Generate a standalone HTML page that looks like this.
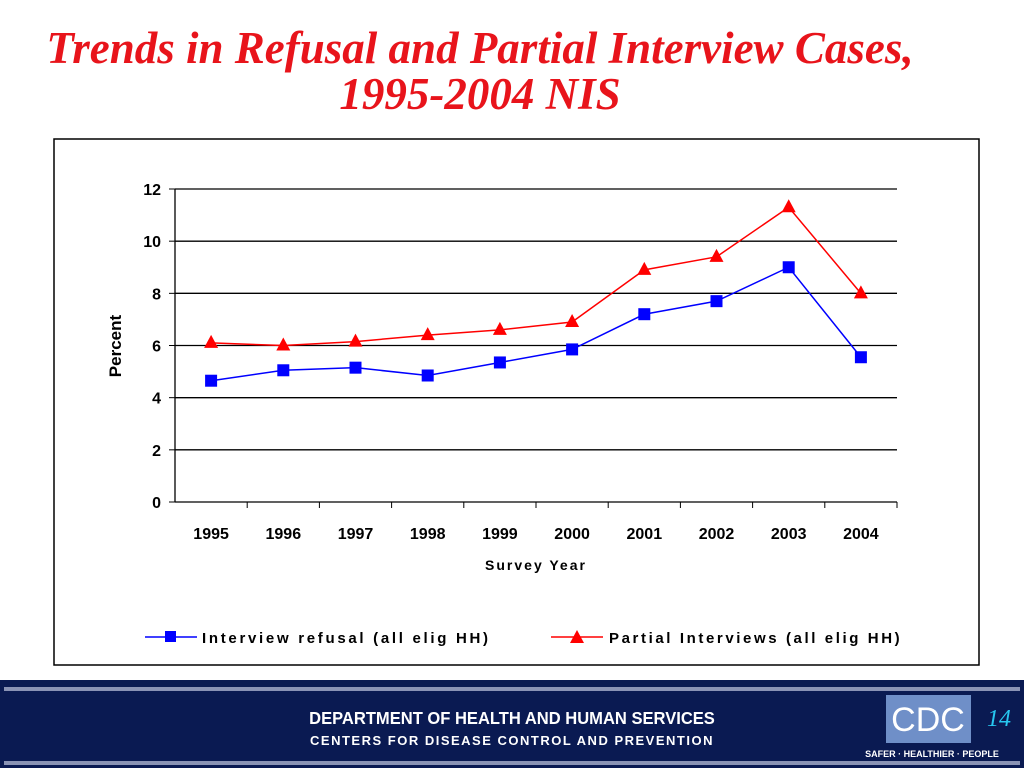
<!DOCTYPE html>
<html><head><meta charset="utf-8"><style>
body{margin:0;width:1024px;height:768px;background:#fff;overflow:hidden;position:relative;font-family:"Liberation Sans",sans-serif}
.title{position:absolute;left:0;width:960px;text-align:center;font-family:"Liberation Serif",serif;font-style:italic;font-weight:bold;color:#e8141b;font-size:45px;line-height:46px}
</style></head><body>
<div class="title" style="top:25px">Trends in Refusal and Partial Interview Cases,<br>1995-2004 NIS</div>
<svg id="chart" width="1024" height="768" style="position:absolute;left:0;top:0">
<rect x="54" y="139" width="925" height="526" fill="#fff" stroke="#000" stroke-width="1.5"/>
<g id="grid"></g><g id="axes"></g><g id="series"></g>
<text x="121" y="346" transform="rotate(-90 121 346)" text-anchor="middle" font-size="17" font-weight="bold" font-family="Liberation Sans">Percent</text>
<text x="536" y="570" text-anchor="middle" font-size="14" font-weight="bold" letter-spacing="2" font-family="Liberation Sans">Survey Year</text>
<g>
<line x1="145" y1="637" x2="197" y2="637" stroke="#0000ff" stroke-width="1.5"/><rect x="165" y="631" width="11" height="11" fill="#0000ff"/>
<text x="202" y="643" font-size="15" font-weight="bold" letter-spacing="2.7" font-family="Liberation Sans">Interview refusal (all elig HH)</text></g>
<g>
<line x1="551" y1="637" x2="603" y2="637" stroke="#ff0000" stroke-width="1.5"/><polygon points="577,630 584,643 570,643" fill="#ff0000"/>
<text x="609" y="643" font-size="15" font-weight="bold" letter-spacing="2.6" font-family="Liberation Sans">Partial Interviews (all elig HH)</text></g>
<g>
<rect x="0" y="680" width="1024" height="88" fill="#0a1a52"/>
<rect x="4" y="687" width="1016" height="4" fill="#8a93b5"/>
<rect x="4" y="761" width="1016" height="4" fill="#8a93b5"/>
<text x="512" y="724" text-anchor="middle" fill="#fff" font-size="18" font-weight="bold" font-family="Liberation Sans" transform="translate(512 0) scale(0.92 1) translate(-512 0)">DEPARTMENT OF HEALTH AND HUMAN SERVICES</text>
<text x="512" y="745" text-anchor="middle" fill="#fff" font-size="13" font-weight="bold" letter-spacing="1.5" font-family="Liberation Sans">CENTERS FOR DISEASE CONTROL AND PREVENTION</text>
<rect x="886" y="695" width="85" height="48" fill="#6f8fc8"/>
<text x="928" y="731" text-anchor="middle" fill="#fff" font-size="34" font-family="Liberation Sans">CDC</text>
<text x="999" y="726" text-anchor="middle" fill="#27c8f0" font-size="24" font-style="italic" font-family="Liberation Serif">14</text>
<text x="932" y="757" text-anchor="middle" fill="#fff" font-size="9" font-weight="bold" font-family="Liberation Sans">SAFER · HEALTHIER · PEOPLE</text>
</g>
</svg>
<script>
const years=["1995","1996","1997","1998","1999","2000","2001","2002","2003","2004"];
const refusal=[4.65,5.05,5.15,4.85,5.35,5.85,7.2,7.7,9.0,5.55];
const partial=[6.1,6.0,6.15,6.4,6.6,6.9,8.9,9.4,11.3,8.0];
const yTicks=[0,2,4,6,8,10,12];
const NS="http://www.w3.org/2000/svg";
const X0=175,X1=897,Y0=502,Y1=189,YMAX=12;
const bw=(X1-X0)/years.length;
const xs=i=>X0+bw*(i+0.5);
const ys=v=>Y0-(v/YMAX)*(Y0-Y1);
function mk(p,tag,at){const e=document.createElementNS(NS,tag);for(const k in at)e.setAttribute(k,at[k]);p.appendChild(e);return e;}
const grid=document.getElementById('grid'),axes=document.getElementById('axes'),ser=document.getElementById('series');
yTicks.forEach(t=>{
 const y=ys(t);
 if(t>0){const l=mk(grid,'line',{x1:X0,x2:X1,y1:y,y2:y,stroke:'#000','stroke-width':1.3});
 
 }
 mk(axes,'line',{x1:X0-6,x2:X0,y1:y,y2:y,stroke:'#000'});
 const tx=mk(axes,'text',{x:X0-14,y:y+6,'text-anchor':'end','font-size':16,'font-weight':'bold','font-family':'Liberation Sans'});
 tx.textContent=t;
 
 
});
mk(axes,'line',{x1:X0,x2:X0,y1:Y1,y2:Y0,stroke:'#000','stroke-width':1.3});
mk(axes,'line',{x1:X0,x2:X1,y1:Y0,y2:Y0,stroke:'#000','stroke-width':1.3});
years.forEach((yr,i)=>{
 const x=X0+bw*(i+1);
 mk(axes,'line',{x1:x,x2:x,y1:Y0,y2:Y0+6,stroke:'#000'});
 const tx=mk(axes,'text',{x:xs(i),y:Y0+37,'text-anchor':'middle','font-size':16,'font-weight':'bold','font-family':'Liberation Sans'});
 tx.textContent=yr;
 
 
});
function line(vals,col,name){
 const p=mk(ser,'polyline',{points:vals.map((v,i)=>xs(i)+','+ys(v)).join(' '),fill:'none',stroke:col,'stroke-width':1.5});
 
 
}
line(refusal,'#0000ff','refusal');
line(partial,'#ff0000','partial');
refusal.forEach((v,i)=>{const r=mk(ser,'rect',{x:xs(i)-6,y:ys(v)-6,width:12,height:12,fill:'#0000ff'});
 
 });
partial.forEach((v,i)=>{const x=xs(i),y=ys(v);const t=mk(ser,'polygon',{points:`${x},${y-8} ${x+7},${y+5} ${x-7},${y+5}`,fill:'#ff0000'});
 
 });
</script>
</body></html>
